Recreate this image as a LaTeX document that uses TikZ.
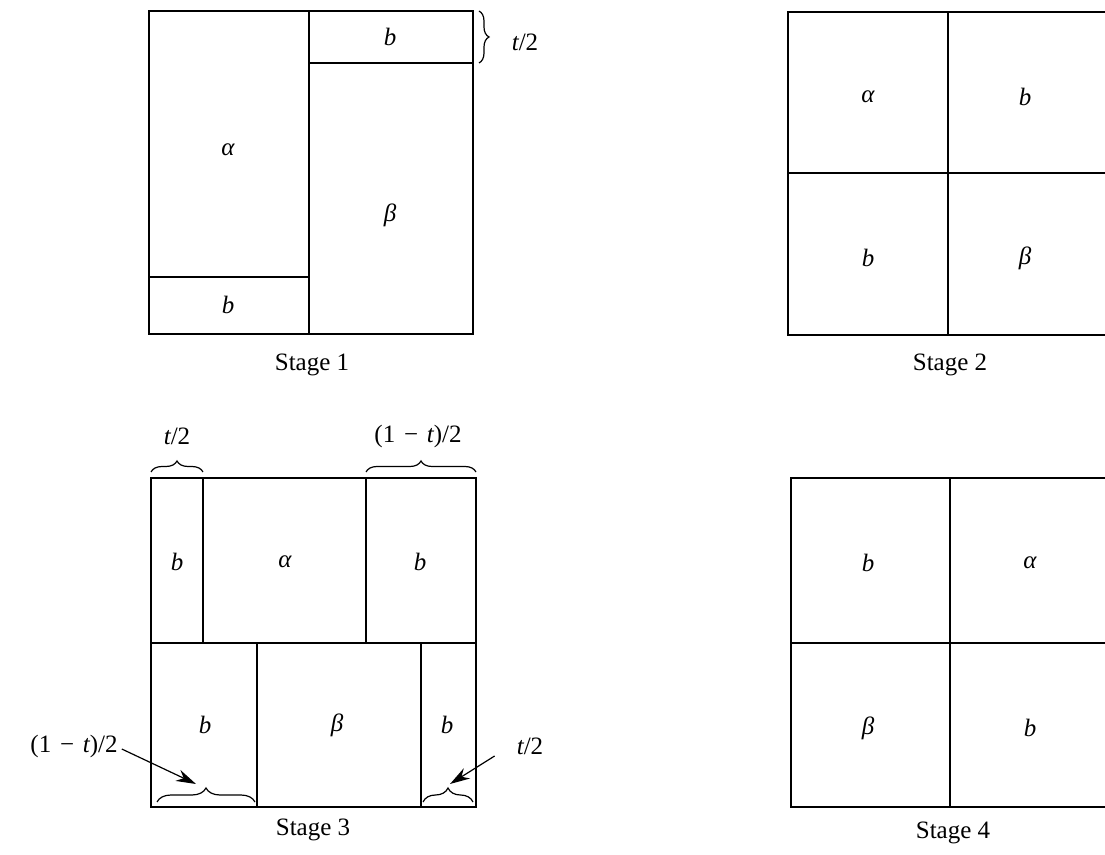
\documentclass[tikz,border=0pt]{standalone}
\usepackage{fontspec}
\setmainfont{Liberation Serif}
\usetikzlibrary{decorations.pathreplacing,arrows.meta}
\newcommand{\half}[1]{#1\upshape/2}
\newcommand{\onemt}{\upshape(1\hspace{0.35em}−\hspace{0.35em}\itshape t\upshape)/2}
\begin{document}
\begin{tikzpicture}[x=1pt,y=1pt,
  frame/.style={line width=1.8pt, line cap=rect},
  divider/.style={line width=1.3pt},
  lbl/.style={font=\fontsize{25}{28}\selectfont\itshape, inner sep=0pt},
  caption/.style={font=\fontsize{25}{28}\selectfont, inner sep=0pt},
  brc/.style={decorate, decoration={brace, amplitude=#1}, line width=1.2pt},
  brc/.default=11,
  pointer/.style={-{Stealth[length=20pt,width=12pt]}, line width=1.2pt}]
\useasboundingbox (0,0) rectangle (1105,854);
% ---------- Stage 1 ----------
\draw[frame] (149,520) rectangle (473,843);
\draw[divider] (309,520) -- (309,843);
\draw[divider] (309,791) -- (473,791);
\draw[divider] (149,577) -- (309,577);
\node[lbl] (s1b1) at (390,817) {b};
\node[lbl] (s1a) at (228,704) {α};
\node[lbl] (s1be) at (390,639) {β};
\node[lbl] (s1b2) at (228,549) {b};
\draw[brc=10] (479,843) -- (479,791);
\node[lbl] (s1t) at (525,812) {\half{t}};
\node[caption] (c1) at (312,489) {Stage 1};
% ---------- Stage 2 ----------
\draw[frame] (1106,842) -- (788,842) -- (788,519) -- (1106,519);
\draw[divider] (948,519) -- (948,842);
\draw[divider] (788,681) -- (1106,681);
\node[lbl] (s2a) at (868,757) {α};
\node[lbl] (s2b1) at (1025,757) {b};
\node[lbl] (s2b2) at (868,596) {b};
\node[lbl] (s2be) at (1025,596) {β};
\node[caption] (c2) at (950,489) {Stage 2};
% ---------- Stage 3 ----------
\draw[frame] (151,47) rectangle (476,376);
\draw[divider] (151,211) -- (476,211);
\draw[divider] (203,211) -- (203,376);
\draw[divider] (366,211) -- (366,376);
\draw[divider] (257,47) -- (257,211);
\draw[divider] (421,47) -- (421,211);
\node[lbl] (s3b1) at (177,292) {b};
\node[lbl] (s3a) at (285,292) {α};
\node[lbl] (s3b2) at (420,292) {b};
\node[lbl] (s3b3) at (205,129) {b};
\node[lbl] (s3be) at (337,129) {β};
\node[lbl] (s3b4) at (447,129) {b};
\draw[brc=11] (151,382) -- (203,382);
\draw[brc=11] (366,382) -- (476,382);
\node[lbl] (s3t1) at (177,418) {\half{t}};
\node[lbl] (s3t2) at (418,418) {\onemt};
\draw[brc=14] (157,52) -- (255,52);
\draw[brc=14] (423,52) -- (473,52);
\coordinate (tipL) at (196,70);
\coordinate (tipR) at (450,70);
\node[lbl] (s3t3) at (74,108) {\onemt};
\node[lbl] (s3t4) at (530,108) {\half{t}};
\draw[pointer] (s3t3.east) ++(4,-3) -- (tipL);
\draw[pointer] (s3t4.west) ++(-22,-10) -- (tipR);
\node[caption] (c3) at (313,24) {Stage 3};
% ---------- Stage 4 ----------
\draw[frame] (1106,376) -- (791,376) -- (791,47) -- (1106,47);
\draw[divider] (950,47) -- (950,376);
\draw[divider] (791,211) -- (1106,211);
\node[lbl] (s4b1) at (868,291) {b};
\node[lbl] (s4a) at (1030,291) {α};
\node[lbl] (s4be) at (868,126) {β};
\node[lbl] (s4b2) at (1030,126) {b};
\node[caption] (c4) at (953,21) {Stage 4};
\end{tikzpicture}
\end{document}
